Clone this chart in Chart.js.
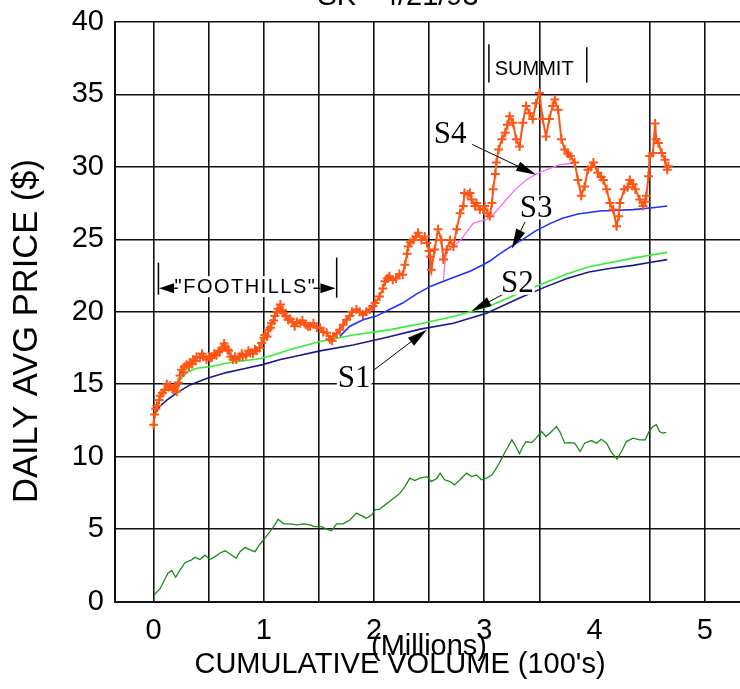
<!DOCTYPE html>
<html>
<head>
<meta charset="utf-8">
<title>SK - 4/21/93</title>
<script src="https://cdn.jsdelivr.net/npm/chart.js@4.4.1/dist/chart.umd.min.js"></script>
<style>
  html, body { margin: 0; padding: 0; background: #fff; overflow: hidden; }
  canvas { display: block; }
</style>
</head>
<body>
<canvas id="chart" width="740" height="689"></canvas>
<script>
// [cumulative volume (millions), daily avg price ($)]
const price = [
  [0.00,12.2],[0.01,12.9],[0.02,13.3],[0.03,13.5],[0.05,13.9],[0.06,14.2],[0.08,14.4],[0.10,14.6],
  [0.12,15.0],[0.14,14.8],[0.15,14.9],[0.17,14.7],[0.18,14.6],[0.20,14.9],[0.21,14.5],[0.225,15.1],
  [0.24,15.6],[0.255,16.0],[0.27,15.8],[0.28,16.2],[0.30,16.35],[0.32,16.2],[0.33,16.5],[0.35,16.4],
  [0.36,16.7],[0.38,16.6],[0.39,16.9],[0.42,16.8],[0.44,17.1],[0.45,16.9],[0.48,16.7],[0.50,16.9],
  [0.52,16.8],[0.53,16.9],[0.55,17.1],[0.57,17.0],[0.59,17.2],[0.60,17.3],[0.62,17.5],[0.64,17.8],
  [0.65,17.6],[0.67,17.4],[0.68,17.3],[0.70,16.9],[0.72,16.7],[0.74,16.9],[0.75,16.7],[0.78,16.9],
  [0.80,17.1],[0.81,16.9],[0.84,17.0],[0.86,17.3],[0.875,17.15],[0.90,17.1],[0.92,17.4],[0.935,17.3],
  [0.96,17.5],[0.98,17.85],[1.00,18.2],[1.01,18.4],[1.03,18.3],[1.04,18.75],[1.06,18.9],[1.07,19.2],
  [1.09,19.4],[1.10,19.7],[1.12,20.0],[1.13,20.2],[1.15,20.5],[1.17,20.1],[1.18,19.9],[1.20,19.7],
  [1.22,19.45],[1.24,19.5],[1.26,19.3],[1.28,19.0],[1.30,19.3],[1.33,19.2],[1.35,19.4],[1.38,19.1],
  [1.40,19.0],[1.42,19.0],[1.45,19.2],[1.48,18.9],[1.51,18.9],[1.54,18.6],[1.57,18.55],[1.60,18.1],
  [1.62,18.0],[1.63,18.3],[1.66,18.5],[1.69,18.75],[1.72,19.1],[1.75,19.45],[1.78,19.7],[1.80,20.0],
  [1.84,20.15],[1.87,20.0],[1.90,19.8],[1.93,20.0],[1.96,20.15],[1.99,20.4],[2.01,20.6],[2.05,21.05],
  [2.08,21.6],[2.10,22.1],[2.12,22.3],[2.14,22.45],[2.17,22.2],[2.20,22.3],[2.23,22.6],[2.26,22.55],
  [2.28,23.25],[2.30,24.0],[2.31,24.5],[2.33,24.8],[2.355,24.95],[2.38,25.2],[2.40,25.45],[2.43,24.95],
  [2.46,25.2],[2.48,24.75],[2.50,24.2],[2.51,23.8],[2.52,22.9],[2.55,24.3],[2.58,25.7],[2.61,24.95],
  [2.63,23.6],[2.66,24.3],[2.69,24.95],[2.72,24.5],[2.75,25.7],[2.78,26.8],[2.81,27.3],[2.82,28.2],
  [2.85,28.1],[2.87,28.2],[2.885,27.75],[2.915,27.3],[2.93,27.5],[2.96,27.05],[2.99,27.05],[3.005,27.3],
  [3.03,26.8],[3.05,26.6],[3.07,27.5],[3.08,28.45],[3.10,29.5],[3.11,30.3],[3.13,31.2],[3.16,31.9],
  [3.19,32.35],[3.21,32.9],[3.23,33.5],[3.26,33.05],[3.29,31.9],[3.32,31.4],[3.35,33.05],[3.38,34.2],
  [3.41,33.7],[3.44,33.3],[3.47,34.4],[3.50,35.1],[3.53,33.3],[3.56,32.1],[3.59,33.3],[3.62,34.2],
  [3.64,34.65],[3.67,33.95],[3.70,31.9],[3.73,31.2],[3.76,30.9],[3.78,30.75],[3.82,30.3],[3.85,29.1],
  [3.88,28.0],[3.91,28.65],[3.94,29.8],[3.97,30.0],[3.99,30.3],[4.03,29.6],[4.06,29.3],[4.08,29.1],
  [4.11,28.45],[4.14,27.5],[4.17,27.05],[4.20,25.9],[4.22,26.6],[4.23,27.5],[4.27,28.45],[4.30,28.6],
  [4.32,29.1],[4.35,28.8],[4.37,28.45],[4.41,27.75],[4.44,27.3],[4.46,27.6],[4.47,28.0],[4.49,29.35],
  [4.50,30.75],[4.53,30.95],[4.55,33.0],[4.56,31.9],[4.58,31.65],[4.61,30.95],[4.64,30.5],[4.66,29.8],
  [4.67,30.05]
]

const lowLine = [
  [0.005,0.45],[0.06,0.9],[0.10,1.5],[0.13,1.95],[0.165,2.15],[0.20,1.67],[0.24,2.18],[0.285,2.68],
  [0.345,2.87],[0.375,3.05],[0.42,2.9],[0.467,3.2],[0.51,2.9],[0.558,3.1],[0.60,3.33],[0.648,3.5],
  [0.694,3.28],[0.748,2.98],[0.784,3.44],[0.83,3.74],[0.875,3.56],[0.92,3.44],[0.966,3.97],[1.01,4.37],
  [1.056,4.82],[1.10,5.29],[1.13,5.68],[1.18,5.36],[1.24,5.36],[1.30,5.29],[1.36,5.36],[1.42,5.29],
  [1.46,5.17],[1.525,5.17],[1.57,4.99],[1.615,4.89],[1.66,5.36],[1.72,5.36],[1.78,5.63],[1.84,6.1],
  [1.89,5.91],[1.93,5.75],[1.98,5.98],[2.01,6.32],[2.05,6.37],[2.10,6.67],[2.14,6.9],[2.19,7.2],
  [2.235,7.48],[2.28,7.93],[2.325,8.51],[2.37,8.35],[2.415,8.51],[2.48,8.62],[2.52,8.28],[2.57,8.51],
  [2.60,8.86],[2.64,8.40],[2.69,8.28],[2.73,8.05],[2.78,8.40],[2.84,8.86],[2.885,8.62],[2.93,8.74],
  [2.975,8.40],[3.02,8.51],[3.07,8.74],[3.11,9.2],[3.16,9.9],[3.20,10.47],[3.25,11.16],[3.28,10.8],
  [3.32,10.2],[3.35,10.7],[3.38,11.04],[3.43,10.97],[3.47,11.28],[3.52,11.73],[3.56,11.39],[3.61,11.73],
  [3.655,12.08],[3.685,11.73],[3.73,10.93],[3.775,10.97],[3.82,10.93],[3.87,10.35],[3.91,10.93],[3.97,11.11],
  [4.02,10.93],[4.06,11.2],[4.11,10.93],[4.15,10.35],[4.205,9.83],[4.245,10.35],[4.29,11.04],[4.35,11.28],
  [4.41,11.16],[4.46,11.16],[4.495,11.73],[4.53,12.08],[4.56,12.2],[4.59,11.73],[4.62,11.62],[4.65,11.67]
]

const s1 = [
  [0.01,12.9],[0.06,13.5],[0.12,13.9],[0.21,14.4],[0.33,14.95],[0.48,15.4],[0.66,15.8],[0.84,16.1],
  [0.99,16.35],[1.15,16.7],[1.30,16.95],[1.51,17.3],[1.81,17.7],[2.10,18.2],[2.42,18.8],[2.72,19.2],
  [3.02,19.9],[3.32,20.95],[3.55,21.7],[3.75,22.3],[3.95,22.75],[4.15,23.0],[4.35,23.2],[4.50,23.4],
  [4.66,23.6]
]

const s2 = [
  [0.22,14.6],[0.24,15.3],[0.30,15.8],[0.39,16.1],[0.51,16.2],[0.66,16.45],[0.80,16.6],[0.96,16.75],
  [1.08,17.0],[1.24,17.4],[1.51,17.95],[1.81,18.4],[2.14,18.75],[2.44,19.2],[2.74,19.7],[3.05,20.4],
  [3.32,21.3],[3.55,22.0],[3.75,22.6],[3.95,23.1],[4.15,23.4],[4.35,23.7],[4.50,23.9],[4.66,24.1]
]

const s3 = [
  [1.69,18.3],[1.78,19.0],[1.90,19.45],[2.02,19.7],[2.14,20.15],[2.26,20.6],[2.38,21.2],[2.51,21.75],
  [2.63,22.1],[2.75,22.45],[2.87,22.8],[2.99,23.25],[3.05,23.5],[3.14,24.0],[3.24,24.5],[3.35,25.0],
  [3.47,25.6],[3.60,26.1],[3.71,26.45],[3.85,26.75],[4.05,26.95],[4.35,27.05],[4.55,27.2],[4.66,27.3]
]

const s4 = [
  [2.63,22.2],[2.64,23.2],[2.66,24.2],[2.72,24.5],[2.78,24.9],[2.84,25.5],[2.90,26.1],[2.96,26.25],
  [3.02,26.35],[3.08,26.7],[3.14,27.2],[3.20,27.75],[3.29,28.5],[3.38,29.1],[3.47,29.5],[3.56,29.8],
  [3.685,30.15],[3.81,30.25]
]

const xTickVals = [0, 0.5, 1, 1.5, 2, 2.5, 3, 3.5, 4, 4.5, 5]
const yTickVals = [0, 5, 10, 15, 20, 25, 30, 35, 40]

const titleText = 'SK - 4/21/93'
const xTitle = "CUMULATIVE VOLUME (100's)"
const xSubTitle = '(Millions)'
const yTitle = 'DAILY AVG PRICE ($)'

const sans = '"Liberation Sans", Arial, sans-serif'
const serif = '"Liberation Serif", "Times New Roman", serif'

// annotation layout, in data units
const notes = {
  sLabels: [
    { text: 'S4', x: 2.69, y: 32.3, from: [2.89, 31.55], to: [3.47, 29.45] },
    { text: 'S3', x: 3.47, y: 27.2, from: [3.37, 26.2], to: [3.25, 24.35] },
    { text: 'S2', x: 3.30, y: 22.0, from: [3.17, 21.2], to: [2.885, 20.05] },
    { text: 'S1', x: 1.82, y: 15.45, from: [1.99, 15.93], to: [2.48, 18.76] },
  ],
  summit: { x: 3.095, y: 36.73, bars: [[3.042, 38.46, 35.83], [3.930, 38.25, 35.83]] },
  foothills: { x: 0.834, y: 21.7, arrowY: 21.62, left: [0.22, 0.05], right: [1.45, 1.65],
    bars: [[0.044, 23.39, 21.18], [1.661, 23.74, 20.97]] },
}

const toXY = arr => arr.map(p => ({ x: p[0], y: p[1] }))

function arrowHead(ctx, x1, y1, x2, y2, len, half) {
  const a = Math.atan2(y2 - y1, x2 - x1)
  const bx = x2 - len * Math.cos(a), by = y2 - len * Math.sin(a)
  ctx.beginPath()
  ctx.moveTo(x1, y1)
  ctx.lineTo(bx, by)
  ctx.stroke()
  ctx.beginPath()
  ctx.moveTo(x2, y2)
  ctx.lineTo(bx + half * Math.sin(a), by - half * Math.cos(a))
  ctx.lineTo(bx - half * Math.sin(a), by + half * Math.cos(a))
  ctx.closePath()
  ctx.fill()
}

const notePlugin = {
  id: 'notes',
  afterDatasetsDraw(chart) {
    const { ctx, scales: { x, y } } = chart
    const px = v => x.getPixelForValue(v)
    const py = v => y.getPixelForValue(v)
    ctx.save()
    ctx.fillStyle = '#000'
    ctx.strokeStyle = '#000'

    // S1..S4 labels with arrows
    ctx.lineWidth = 1
    ctx.font = '31px ' + serif
    ctx.textAlign = 'center'
    ctx.textBaseline = 'middle'
    notes.sLabels.forEach(n => {
      arrowHead(ctx, px(n.from[0]), py(n.from[1]), px(n.to[0]), py(n.to[1]), 20, 5)
      const w = ctx.measureText(n.text).width
      ctx.fillStyle = '#fff'
      ctx.fillRect(px(n.x) - w / 2 - 1, py(n.y) - 12, w + 2, 24)
      ctx.fillStyle = '#000'
      ctx.fillText(n.text, px(n.x), py(n.y) + 1)
    })

    // SUMMIT
    const sm = notes.summit
    ctx.lineWidth = 1.5
    sm.bars.forEach(b => {
      ctx.beginPath()
      ctx.moveTo(px(b[0]), py(b[1]))
      ctx.lineTo(px(b[0]), py(b[2]))
      ctx.stroke()
    })
    ctx.font = '20px ' + sans
    ctx.textAlign = 'left'
    ctx.fillText('SUMMIT', px(sm.x), py(sm.y))

    // "FOOTHILLS"
    const fh = notes.foothills
    ctx.font = '20px ' + sans
    ctx.letterSpacing = '1.5px'
    ctx.textAlign = 'center'
    const fw = ctx.measureText('"FOOTHILLS"').width
    ctx.fillStyle = '#fff'
    ctx.fillRect(px(fh.x) - fw / 2, py(fh.y) - 11, fw, 21)
    ctx.fillStyle = '#000'
    ctx.fillText('"FOOTHILLS"', px(fh.x), py(fh.y))
    ctx.letterSpacing = '0px'
    fh.bars.forEach(b => {
      ctx.beginPath()
      ctx.moveTo(px(b[0]), py(b[1]))
      ctx.lineTo(px(b[0]), py(b[2]))
      ctx.stroke()
    })
    ctx.lineWidth = 1.5
    arrowHead(ctx, px(fh.left[0]), py(fh.arrowY), px(fh.left[1]), py(fh.arrowY), 15, 5)
    arrowHead(ctx, px(fh.right[0]), py(fh.arrowY), px(fh.right[1]), py(fh.arrowY), 15, 5)
    ctx.restore()
  },
  afterDraw(chart) {
    const { ctx } = chart
    ctx.save()
    ctx.fillStyle = '#000'
    ctx.textAlign = 'center'
    ctx.font = '29px ' + sans
    ctx.textBaseline = 'alphabetic'
    ctx.fillText(titleText, 398, 5)
    ctx.textBaseline = 'middle'
    ctx.fillText(xSubTitle, 429, 647)
    ctx.fillText(xTitle, 400, 665)
    ctx.translate(27, 331)
    ctx.rotate(-Math.PI / 2)
    ctx.font = '34.5px ' + sans
    ctx.fillText(yTitle, 0, 0)
    ctx.restore()
  }
}

const tickFont = { family: sans, size: 29 }

new Chart(document.getElementById('chart'), {
  type: 'line',
  data: {
    datasets: [
      {
        data: toXY(price),
        borderColor: '#ff5514',
        borderWidth: 2,
        pointStyle: 'cross',
        pointRadius: 4.5,
        pointBorderWidth: 2,
        pointBorderColor: '#ff5514',
      },
      { data: toXY(s4), borderColor: '#ff66ff', borderWidth: 1.3, pointRadius: 0 },
      { data: toXY(s3), borderColor: '#2030ff', borderWidth: 1.6, pointRadius: 0 },
      { data: toXY(s2), borderColor: '#30f030', borderWidth: 1.6, pointRadius: 0 },
      { data: toXY(s1), borderColor: '#1a1a8c', borderWidth: 1.6, pointRadius: 0 },
      { data: toXY(lowLine), borderColor: '#1b8a1b', borderWidth: 1.3, pointRadius: 0 },
    ],
  },
  options: {
    animation: false,
    responsive: false,
    // the plot runs off the right edge of the picture
    layout: { autoPadding: false, padding: { top: 22, left: 0, right: 0, bottom: 0 } },
    plugins: {
      legend: { display: false },
      tooltip: { enabled: false },
    },
    elements: { line: { tension: 0 } },
    scales: {
      x: {
        type: 'linear',
        min: -0.35,
        max: 5.32,
        afterBuildTicks: s => { s.ticks = xTickVals.map(v => ({ value: v })) },
        afterFit: s => { s.height = 87.5; s.paddingLeft = 0; s.paddingRight = 0 },
        grid: {
          drawTicks: false,
          lineWidth: 1.6,
          color: c => (c.tick && c.tick.value === 4) ? 'rgba(0,0,0,0)' : '#111',
        },
        border: { color: '#111', width: 2 },
        ticks: {
          padding: 12,
          autoSkip: false,
          maxRotation: 0,
          color: '#000',
          font: tickFont,
          callback: v => Number.isInteger(v) ? String(v) : '',
        },
      },
      y: {
        min: 0,
        max: 40,
        afterBuildTicks: s => { s.ticks = yTickVals.map(v => ({ value: v })) },
        afterFit: s => { s.width = 115; s.paddingTop = 0; s.paddingBottom = 0 },
        grid: { drawTicks: false, lineWidth: 1.6, color: '#111' },
        border: { color: '#111', width: 2 },
        ticks: { padding: 11, color: '#000', font: tickFont },
      },
    },
  },
  plugins: [notePlugin],
})
</script>
</body>
</html>
